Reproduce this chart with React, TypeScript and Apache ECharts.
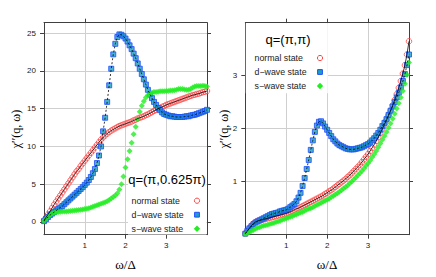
import React, { useEffect, useRef } from "react";
import * as echarts from "echarts";

const omega = [
  0, 0.05, 0.1, 0.15, 0.2, 0.25, 0.3, 0.35, 0.4, 0.45,
  0.5, 0.55, 0.6, 0.65, 0.7, 0.75, 0.8, 0.85, 0.9, 0.95,
  1.0, 1.05, 1.1, 1.15, 1.2, 1.25, 1.3, 1.35, 1.4, 1.45,
  1.5, 1.55, 1.6, 1.65, 1.7, 1.75, 1.8, 1.85, 1.9, 1.95,
  2.0, 2.05, 2.1, 2.15, 2.2, 2.25, 2.3, 2.35, 2.4, 2.45,
  2.5, 2.55, 2.6, 2.65, 2.7, 2.75, 2.8, 2.85, 2.9, 2.95,
  3.0, 3.05, 3.1, 3.15, 3.2, 3.25, 3.3, 3.35, 3.4, 3.45,
  3.5, 3.55, 3.6, 3.65, 3.7, 3.75, 3.8, 3.85, 3.9, 3.95,
  4.0,
];

// q = (pi, 0.625 pi)
const leftNormal = [
  0.2, 0.6, 1.0, 1.4, 1.85, 2.3, 2.7, 3.1, 3.5, 3.9,
  4.3, 4.7, 5.1, 5.5, 5.9, 6.3, 6.7, 7.0, 7.4, 7.75,
  8.1, 8.45, 8.8, 9.15, 9.5, 9.85, 10.2, 10.55, 10.9, 11.2,
  11.45, 11.7, 11.9, 12.1, 12.25, 12.4, 12.55, 12.7, 12.8, 12.9,
  13.0, 13.1, 13.2, 13.3, 13.45, 13.55, 13.7, 13.8, 13.9, 14.0,
  14.15, 14.25, 14.4, 14.55, 14.7, 14.85, 15.0, 15.1, 15.25, 15.35,
  15.5, 15.6, 15.7, 15.8, 15.9, 16.0, 16.1, 16.2, 16.3, 16.4,
  16.5, 16.6, 16.7, 16.8, 16.85, 16.95, 17.0, 17.1, 17.2, 17.25,
  17.35,
];
const leftDwave = [
  0.1, 0.35, 0.65, 0.9, 1.1, 1.3, 1.5, 1.7, 1.9, 2.1,
  2.35, 2.6, 2.85, 3.1, 3.35, 3.6, 3.85, 4.1, 4.35, 4.6,
  4.9, 5.2, 5.55, 5.95, 6.45, 7.0, 7.8, 8.8, 10.0, 12.0,
  13.8, 15.9, 18.1, 20.3, 22.2, 23.6, 24.5, 24.85, 24.8, 24.6,
  24.3, 23.9, 23.4, 22.9, 22.3, 21.7, 21.0, 20.3, 19.6, 18.9,
  18.2, 17.5, 16.9, 16.4, 15.9, 15.5, 15.1, 14.8, 14.5, 14.3,
  14.2, 14.1, 14.0, 14.0, 13.95, 13.9, 13.9, 13.9, 13.9, 13.95,
  14.0, 14.0, 14.1, 14.15, 14.2, 14.3, 14.4, 14.5, 14.6, 14.7,
  14.85,
];
const leftSwave = [
  0.1, 0.4, 0.7, 0.9, 1.1, 1.2, 1.28, 1.32, 1.35, 1.36,
  1.37, 1.39, 1.41, 1.44, 1.47, 1.5, 1.53, 1.57, 1.61, 1.65,
  1.7, 1.75, 1.8, 1.9, 2.0, 2.1, 2.2, 2.3, 2.4, 2.5,
  2.6, 2.75, 2.9, 3.1, 3.3, 3.5, 3.8, 4.3, 5.0, 6.0,
  7.2, 8.3, 9.4, 10.5, 11.6, 12.6, 13.6, 14.6, 15.4, 16.0,
  16.5, 16.8, 17.0, 17.1, 17.2, 17.2, 17.25, 17.3, 17.3, 17.3,
  17.35, 17.35, 17.4, 17.4, 17.45, 17.5, 17.6, 17.6, 17.6, 17.55,
  17.5, 17.5, 17.6, 17.8, 17.95, 18.0, 18.0, 18.0, 18.05, 18.0,
  17.95,
];

// q = (pi, pi)
const rightNormal = [
  0.02, 0.07, 0.12, 0.17, 0.21, 0.24, 0.26, 0.27, 0.28, 0.29,
  0.3, 0.31, 0.32, 0.33, 0.34, 0.35, 0.36, 0.37, 0.38, 0.39,
  0.4, 0.415, 0.43, 0.45, 0.47, 0.49, 0.5, 0.52, 0.54, 0.56,
  0.58, 0.6, 0.62, 0.64, 0.66, 0.68, 0.7, 0.72, 0.74, 0.77,
  0.79, 0.82, 0.84, 0.87, 0.9, 0.93, 0.96, 0.99, 1.02, 1.05,
  1.09, 1.12, 1.16, 1.2, 1.24, 1.28, 1.32, 1.37, 1.42, 1.47,
  1.52, 1.58, 1.64, 1.7, 1.77, 1.84, 1.92, 2.0, 2.08, 2.16,
  2.25, 2.34, 2.44, 2.54, 2.65, 2.77, 2.9, 3.04, 3.2, 3.4,
  3.65,
];
const rightDwave = [
  0.02, 0.07, 0.12, 0.16, 0.2, 0.23, 0.25, 0.27, 0.29, 0.31,
  0.33, 0.35, 0.37, 0.39, 0.4, 0.41, 0.42, 0.44, 0.45, 0.46,
  0.47, 0.49, 0.52, 0.55, 0.58, 0.63, 0.7, 0.79, 0.92, 1.07,
  1.24, 1.41, 1.6, 1.78, 1.94, 2.06, 2.13, 2.14, 2.1, 2.04,
  1.98, 1.92, 1.86, 1.8, 1.76, 1.72, 1.69, 1.67, 1.65, 1.63,
  1.62, 1.61, 1.61, 1.61, 1.62, 1.63, 1.64, 1.65, 1.67, 1.69,
  1.71, 1.74, 1.78, 1.82, 1.87, 1.92, 1.98, 2.05, 2.11, 2.18,
  2.26, 2.34, 2.42, 2.5, 2.59, 2.68, 2.78, 2.9, 3.03, 3.2,
  3.4,
];
const rightSwave = [
  0.01, 0.03, 0.05, 0.07, 0.09, 0.11, 0.13, 0.14, 0.16, 0.17,
  0.18, 0.19, 0.2, 0.21, 0.22, 0.24, 0.25, 0.26, 0.28, 0.29,
  0.31, 0.32, 0.34, 0.35, 0.37, 0.38, 0.4, 0.42, 0.43, 0.45,
  0.47, 0.49, 0.5, 0.52, 0.54, 0.56, 0.58, 0.6, 0.62, 0.64,
  0.66, 0.68, 0.71, 0.73, 0.76, 0.78, 0.81, 0.84, 0.87, 0.9,
  0.93, 0.97, 1.0, 1.04, 1.08, 1.12, 1.16, 1.2, 1.25, 1.3,
  1.35, 1.4, 1.46, 1.52, 1.58, 1.65, 1.72, 1.79, 1.86, 1.94,
  2.02, 2.1, 2.19, 2.28, 2.38, 2.48, 2.59, 2.71, 2.85, 3.02,
  3.25,
];

const xTicks = [1, 2, 3];
const yTicksLeft = [0, 5, 10, 15, 20, 25];
const yTicksRight = [1, 2, 3];
const seriesNames = ["normal state", "d\u2212wave state", "s\u2212wave state"];
const panelTitles = ["q=(\u03c0,0.625\u03c0)", "q=(\u03c0,\u03c0)"];
const yTitle = "\u03c7\u2032\u2032(q, \u03c9)";
const xTitle = "\u03c9/\u0394";

const SANS = "Liberation Sans, Arial, sans-serif";
const SERIF = "Liberation Serif, Times New Roman, serif";
const RED = "#ff4545";
const BLUE = "#1f4dff";
const CYAN = "#1b9fc2";
const GREEN = "#22ee22";
const AXIS = "#404040";
const GRIDC = "#cfcfcf";

export default function App() {
  const ref = useRef<HTMLDivElement>(null);
  useEffect(() => {
    const chart = echarts.init(ref.current!, null, { renderer: "svg" });
    const pairs = (ys: number[]) => omega.map((w, i) => [w, ys[i]]);
    const axLine = { show: true, onZero: false, lineStyle: { color: AXIS, width: 1 } };
    const tickStyle = { color: AXIS, width: 1 };
    const label = { fontSize: 8, color: "#1a1a1a", fontFamily: SANS };

    const xAxis: any[] = [];
    const yAxis: any[] = [];
    [0, 1].forEach((g) => {
      xAxis.push({
        type: "value", gridIndex: g, position: "bottom", min: 0, max: 4, interval: 1,
        axisLine: axLine,
        axisTick: { show: true, inside: false, length: 4, customValues: xTicks, lineStyle: tickStyle },
        axisLabel: { ...label, show: true, margin: 7, customValues: xTicks },
        splitLine: { show: true, lineStyle: { color: GRIDC, width: 1 } },
      });
      xAxis.push({
        type: "value", gridIndex: g, position: "top", min: 0, max: 4, interval: 1,
        axisLine: axLine,
        axisTick: { show: true, inside: false, length: 4, customValues: xTicks, lineStyle: tickStyle },
        axisLabel: { show: false },
        splitLine: { show: false },
      });
      const yt = g === 0 ? yTicksLeft : yTicksRight;
      const yr = g === 0 ? { min: -1.7, max: 26.4 } : { min: 0, max: 4, interval: 1 };
      yAxis.push({
        type: "value", gridIndex: g, position: "left", ...yr,
        axisLine: axLine,
        axisTick: { show: true, inside: false, length: 4, customValues: yt, lineStyle: tickStyle },
        axisLabel: { ...label, show: true, margin: 8, customValues: yt },
        splitLine: { show: true, lineStyle: { color: GRIDC, width: 1 } },
      });
      yAxis.push({
        type: "value", gridIndex: g, position: "right", ...yr,
        axisLine: axLine,
        axisTick: { show: true, inside: false, length: 4, customValues: yt, lineStyle: tickStyle },
        axisLabel: { show: false },
        splitLine: { show: false },
      });
    });

    const panelSeries = (g: number, normal: number[], dwave: number[], swave: number[]) => {
      const ax = { xAxisIndex: g * 2, yAxisIndex: g * 2 };
      return [
        {
          type: "scatter", name: seriesNames[0], ...ax, data: pairs(normal),
          symbol: "circle", symbolSize: 5.5,
          itemStyle: { color: "rgba(255,255,255,0)", borderColor: RED, borderWidth: 1 },
        },
        {
          type: "line", name: seriesNames[0] + " line", ...ax, data: pairs(normal),
          showSymbol: false, lineStyle: { color: "#000", width: 0.8 },
        },
        {
          type: "scatter", name: seriesNames[1], ...ax, data: pairs(dwave),
          symbol: "rect", symbolSize: 5,
          itemStyle: { color: CYAN, borderColor: BLUE, borderWidth: 1 },
        },
        {
          type: "line", name: seriesNames[1] + " line", ...ax, data: pairs(dwave),
          showSymbol: false, lineStyle: { color: "#000", width: 0.8, type: [2, 2] },
        },
        {
          type: "scatter", name: seriesNames[2], ...ax, data: pairs(swave),
          symbol: "diamond", symbolSize: 6,
          itemStyle: { color: GREEN },
        },
      ];
    };

    const legendBlock = (bx: number, by: number, bw: number, bh: number,
      title: string, tx: number, ty: number, lx: number, ly: number, mx: number) => {
      const els: any[] = [
        { type: "rect", z: 1, shape: { x: bx, y: by, width: bw, height: bh }, style: { fill: "#fff" } },
        {
          type: "text", z: 10, x: tx, y: ty,
          style: { text: title, fontSize: 13, fontFamily: SANS, fill: "#000", align: "center", verticalAlign: "middle" },
        },
      ];
      seriesNames.forEach((n, i) => {
        const cy = ly + i * 14;
        els.push({
          type: "text", z: 10, x: lx, y: cy,
          style: { text: n, fontSize: 8.8, fontFamily: SANS, fill: "#222", align: "left", verticalAlign: "middle" },
        });
      });
      els.push({ type: "circle", z: 10, shape: { cx: mx, cy: ly, r: 2.6 }, style: { fill: "none", stroke: RED, lineWidth: 1 } });
      els.push({ type: "rect", z: 10, shape: { x: mx - 2.4, y: ly + 14 - 2.4, width: 4.8, height: 4.8 }, style: { fill: CYAN, stroke: BLUE, lineWidth: 1 } });
      els.push({
        type: "polygon", z: 10,
        shape: { points: [[mx, ly + 28 - 3.2], [mx + 3.2, ly + 28], [mx, ly + 28 + 3.2], [mx - 3.2, ly + 28]] },
        style: { fill: GREEN },
      });
      return els;
    };

    const graphic: any[] = [
      ...legendBlock(128, 172, 78.5, 62.5, panelTitles[0], 167, 179, 131.5, 200.7, 197),
      ...legendBlock(245.8, 23.2, 82, 70, panelTitles[1], 288, 39, 254.5, 58, 320),
      { type: "text", z: 10, x: 16, y: 129, rotation: Math.PI / 2,
        style: { text: yTitle, fontSize: 12, fontFamily: SERIF, fill: "#000", align: "center", verticalAlign: "middle" } },
      { type: "text", z: 10, x: 224, y: 129, rotation: Math.PI / 2,
        style: { text: yTitle, fontSize: 12, fontFamily: SERIF, fill: "#000", align: "center", verticalAlign: "middle" } },
      { type: "text", z: 10, x: 125.5, y: 264,
        style: { text: xTitle, fontSize: 13, fontFamily: SERIF, fill: "#000", align: "center", verticalAlign: "middle" } },
      { type: "text", z: 10, x: 327, y: 264,
        style: { text: xTitle, fontSize: 13, fontFamily: SERIF, fill: "#000", align: "center", verticalAlign: "middle" } },
    ];

    chart.setOption({
      animation: false,
      backgroundColor: "#fff",
      grid: [
        { left: 44, top: 22.7, width: 163, height: 212 },
        { left: 245.3, top: 22.7, width: 163.7, height: 212 },
      ],
      xAxis,
      yAxis,
      series: [
        ...panelSeries(0, leftNormal, leftDwave, leftSwave),
        ...panelSeries(1, rightNormal, rightDwave, rightSwave),
      ],
      graphic,
    });
    return () => chart.dispose();
  }, []);
  return <div ref={ref} style={{ position: "fixed", left: 0, top: 0, width: 436, height: 277 }} />;
}
